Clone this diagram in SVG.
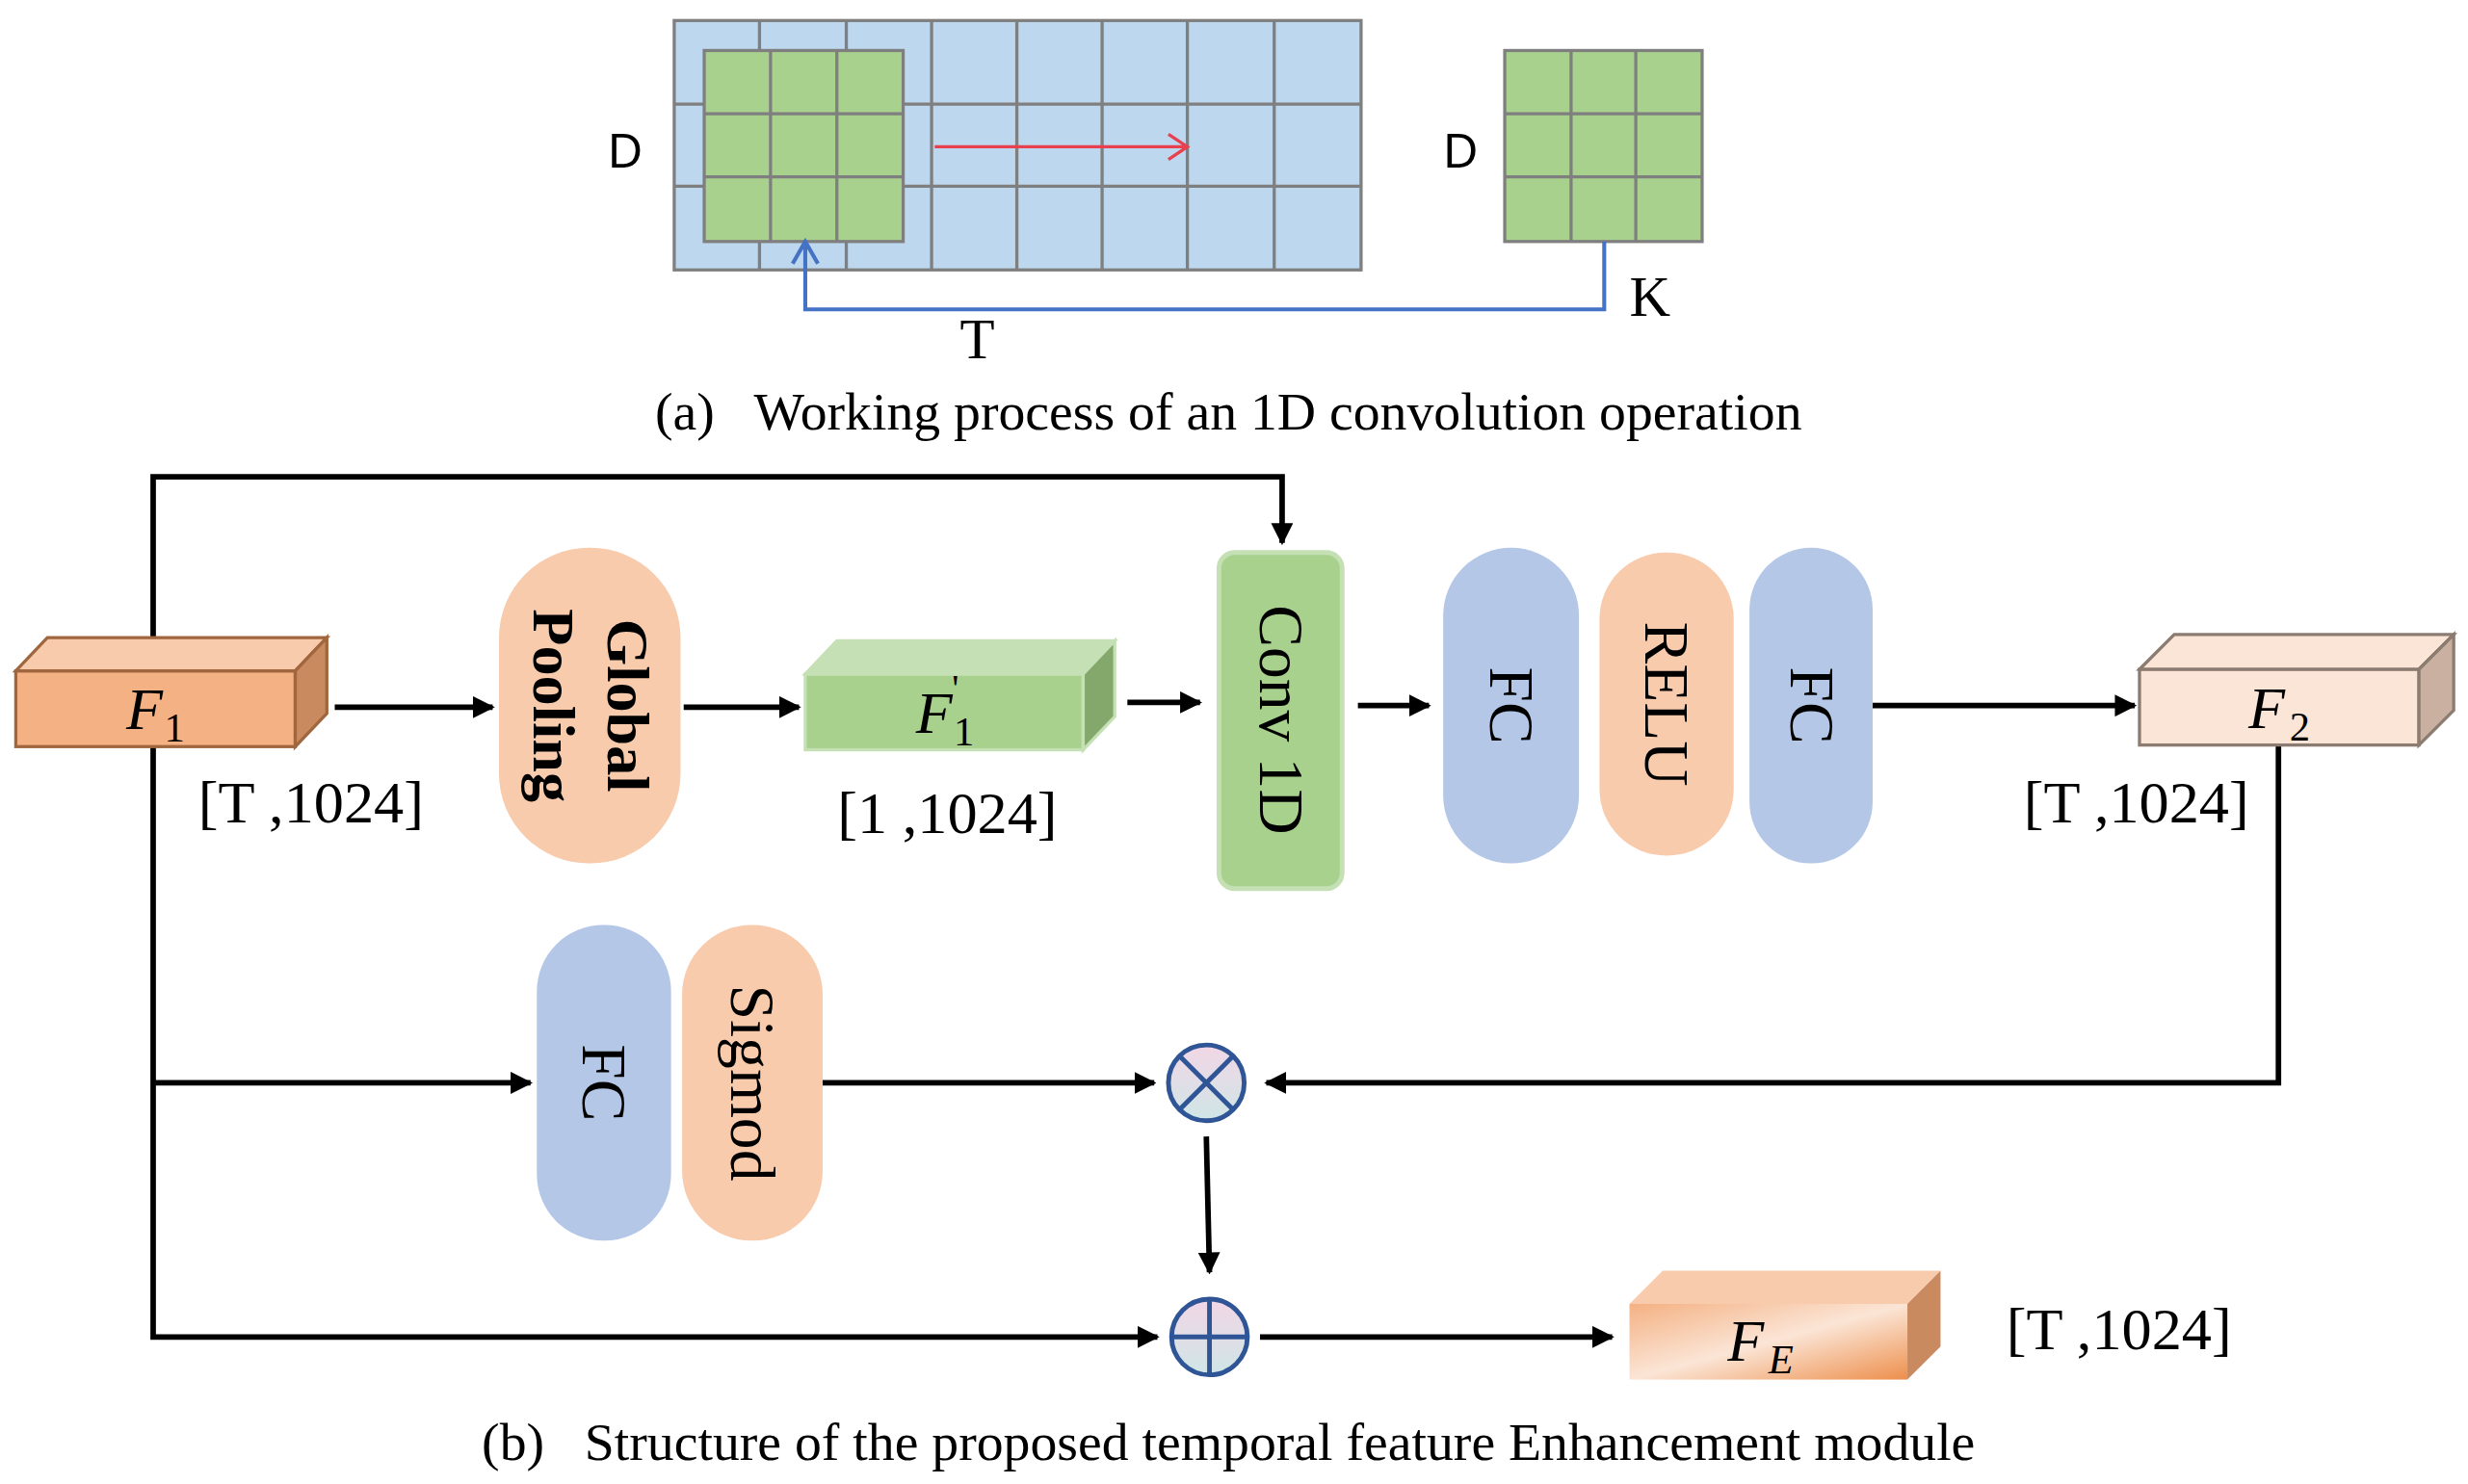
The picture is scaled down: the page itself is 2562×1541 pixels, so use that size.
<svg xmlns="http://www.w3.org/2000/svg" width="2562" height="1541" viewBox="0 0 2562 1541">
<defs>
<style>
.g{stroke:#7f7f7f;stroke-width:2;fill:none}
.ln{stroke:#000;stroke-width:3.5;fill:none}
.s{font-family:"Liberation Serif",serif;fill:#000}
.sa{font-family:"Liberation Sans",sans-serif;fill:#000}
.blue{fill:#b4c7e7}
.or{fill:#f8cbad}
</style>
<marker id="ah" viewBox="0 0 10 10" refX="9" refY="5" markerWidth="4" markerHeight="4" orient="auto"><path d="M0,0L10,5L0,10z" fill="#000"/></marker>
<linearGradient id="fe" x1="0" y1="0" x2="1" y2="1"><stop offset="0" stop-color="#f4b183"/><stop offset="0.5" stop-color="#fbe5d6"/><stop offset="1" stop-color="#ed8f4c"/></linearGradient>
<linearGradient id="cg" x1="0" y1="0" x2="0" y2="1"><stop offset="0" stop-color="#f2d6e6"/><stop offset="1" stop-color="#cfe6e6"/></linearGradient>
</defs>
<rect width="2562" height="1541" fill="#fff"/>
<g transform="scale(1.6391)">
<g id="grid">
<rect x="427" y="13" width="435" height="158" fill="#bdd7ee" stroke="#7f7f7f" stroke-width="2"/>
<path class="g" d="M481,13V171M536,13V171M590,13V171M644,13V171M698,13V171M752,13V171M807,13V171M427,66H862M427,118H862"/>
<rect x="446" y="32" width="126" height="121" fill="#a9d18e" stroke="#7f7f7f" stroke-width="2"/>
<path class="g" d="M488,32V153M530,32V153M446,72H572M446,112H572"/>
<rect x="953" y="32" width="125" height="121" fill="#a9d18e" stroke="#7f7f7f" stroke-width="2"/>
<path class="g" d="M995,32V153M1036,32V153M953,72H1078M953,112H1078"/>
<text class="sa" x="396" y="106" font-size="30" text-anchor="middle">D</text>
<text class="sa" x="925" y="106" font-size="30" text-anchor="middle">D</text>
<text class="s" x="619" y="227" font-size="36" text-anchor="middle">T</text>
<text class="s" x="1045" y="200" font-size="36" text-anchor="middle">K</text>
<path d="M592,93H752M740,85L752,93L740,101" stroke="#e8404f" stroke-width="2" fill="none"/>
<path d="M1016,153V196H510V155M502,167L510,153L518,167" stroke="#4472c4" stroke-width="2.5" fill="none"/>
<text class="s" x="778" y="272" font-size="34" text-anchor="middle" xml:space="preserve">(a)   Working process of an 1D convolution operation</text>
</g>
<g id="connectors">
<path class="ln" d="M97,404V302H812V344" marker-end="url(#ah)"/>
<path class="ln" d="M212,448H312" marker-end="url(#ah)"/>
<path class="ln" d="M433,448H506" marker-end="url(#ah)"/>
<path class="ln" d="M714,445H760" marker-end="url(#ah)"/>
<path class="ln" d="M860,447H905" marker-end="url(#ah)"/>
<path class="ln" d="M1186,447H1352" marker-end="url(#ah)"/>
<path class="ln" d="M1443,472V686H802" marker-end="url(#ah)"/>
<path class="ln" d="M97,473V847H733" marker-end="url(#ah)"/>
<path class="ln" d="M97,686H336" marker-end="url(#ah)"/>
<path class="ln" d="M521,686H731" marker-end="url(#ah)"/>
<path class="ln" d="M764,720L766,806" marker-end="url(#ah)"/>
<path class="ln" d="M798,847H1021" marker-end="url(#ah)"/>
</g>
<g id="F1">
<rect x="10" y="425" width="177" height="48" fill="#f4b183" stroke="#a0673e" stroke-width="2"/>
<path d="M10,425L30,404H207L187,425Z" fill="#f8cbad" stroke="#a0673e" stroke-width="2"/>
<path d="M187,425L207,404V452L187,473Z" fill="#c98a5f" stroke="#a0673e" stroke-width="2"/>
<text class="s" x="80" y="462" font-size="38" font-style="italic">F</text><text class="s" x="104" y="470" font-size="26">1</text>
<text class="s" x="197" y="521" font-size="38" text-anchor="middle">[T ,1024]</text>
</g>
<g id="pool">
<rect x="316" y="347" width="115" height="200" rx="57" class="or"/>
<text class="s" font-size="38" font-weight="bold" text-anchor="middle" transform="translate(385,447) rotate(90)">Global</text>
<text class="s" font-size="38" font-weight="bold" text-anchor="middle" transform="translate(338,447) rotate(90)">Pooling</text>
</g>
<g id="F1p">
<rect x="510" y="427" width="176" height="48" fill="#a9d18e" stroke="#c5e0b4" stroke-width="2"/>
<path d="M510,427L530,406H706L686,427Z" fill="#c5e0b4" stroke="#c5e0b4" stroke-width="2"/>
<path d="M686,427L706,406V454L686,475Z" fill="#84a76b" stroke="#c5e0b4" stroke-width="2"/>
<text class="s" x="580" y="464" font-size="38" font-style="italic">F</text><text class="s" x="603" y="444" font-size="24">'</text><text class="s" x="604" y="472" font-size="26">1</text>
<text class="s" x="600" y="528" font-size="38" text-anchor="middle">[1 ,1024]</text>
</g>
<g id="conv">
<rect x="772" y="350" width="78" height="213" rx="10" fill="#a9d18e" stroke="#c5e0b4" stroke-width="3"/>
<text class="s" font-size="40" text-anchor="middle" transform="translate(798,456) rotate(90)">Conv 1D</text>
</g>
<g id="fc1"><rect x="914" y="347" width="86" height="200" rx="43" class="blue"/><text class="s" font-size="40" text-anchor="middle" transform="translate(944,447) rotate(90)">FC</text></g>
<g id="relu"><rect x="1013" y="350" width="85" height="192" rx="42" class="or"/><text class="s" font-size="40" text-anchor="middle" transform="translate(1042,446) rotate(90)">RELU</text></g>
<g id="fc2"><rect x="1108" y="347" width="78" height="200" rx="39" class="blue"/><text class="s" font-size="40" text-anchor="middle" transform="translate(1134,447) rotate(90)">FC</text></g>
<g id="F2">
<rect x="1355" y="424" width="177" height="48" fill="#fbe5d6" stroke="#8c7b70" stroke-width="2"/>
<path d="M1355,424L1377,402H1554L1532,424Z" fill="#fbe5d6" stroke="#8c7b70" stroke-width="2"/>
<path d="M1532,424L1554,402V450L1532,472Z" fill="#c9b0a0" stroke="#8c7b70" stroke-width="2"/>
<text class="s" x="1424" y="461" font-size="38" font-style="italic">F</text><text class="s" x="1450" y="469" font-size="26">2</text>
<text class="s" x="1353" y="521" font-size="38" text-anchor="middle">[T ,1024]</text>
</g>
<g id="fc3"><rect x="340" y="586" width="85" height="200" rx="42" class="blue"/><text class="s" font-size="40" text-anchor="middle" transform="translate(369,686) rotate(90)">FC</text></g>
<g id="sig"><rect x="432" y="586" width="89" height="200" rx="44" class="or"/><text class="s" font-size="40" text-anchor="middle" transform="translate(463,686) rotate(90)">Sigmod</text></g>
<g id="mul">
<circle cx="764" cy="686" r="24" fill="url(#cg)" stroke="#2f5597" stroke-width="3"/>
<path d="M747,669L781,703M781,669L747,703" stroke="#2f5597" stroke-width="3"/>
</g>
<g id="add">
<circle cx="766" cy="847" r="24" fill="url(#cg)" stroke="#2f5597" stroke-width="3"/>
<path d="M742,847H790M766,823V871" stroke="#2f5597" stroke-width="3"/>
</g>
<g id="FE">
<rect x="1032" y="826" width="176" height="48" fill="url(#fe)"/>
<path d="M1032,826L1053,805H1229L1208,826Z" fill="#f8cbad"/>
<path d="M1208,826L1229,805V853L1208,874Z" fill="#c98a5f"/>
<text class="s" x="1094" y="862" font-size="38" font-style="italic">F</text><text class="s" x="1120" y="870" font-size="26" font-style="italic">E</text>
<text class="s" x="1342" y="855" font-size="38" text-anchor="middle">[T ,1024]</text>
</g>
<text class="s" x="778" y="925" font-size="34" text-anchor="middle" xml:space="preserve">(b)   Structure of the proposed temporal feature Enhancement module</text>
</g>
</svg>
